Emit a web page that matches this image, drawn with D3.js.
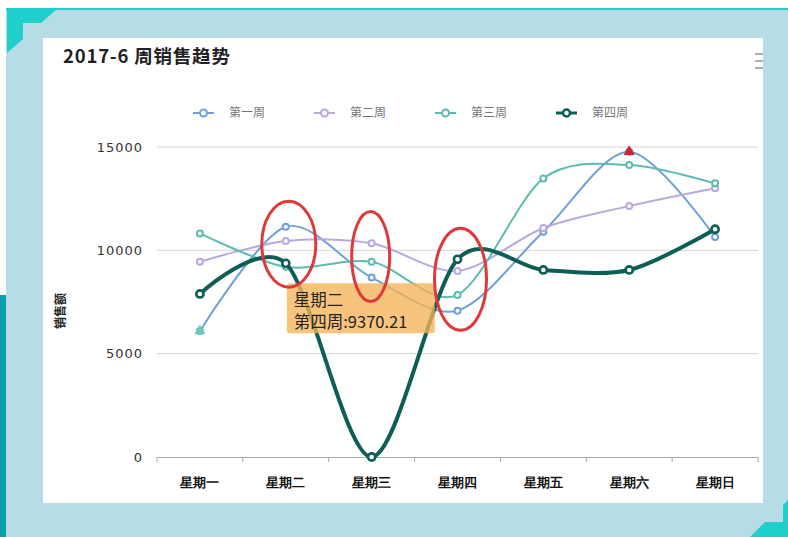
<!DOCTYPE html>
<html>
<head>
<meta charset="utf-8">
<script src="https://cdn.jsdelivr.net/npm/d3@7"></script>
<style>
    body { margin: 0; background: #fff; }
    svg { display: block; }
</style>
</head>
<body>
<div id="container"><svg></svg></div>
<script>
let width = 788, height = 537;

// 数据
let days = ['星期一', '星期二', '星期三', '星期四', '星期五', '星期六', '星期日'];
let week_names = ['第一周', '第二周', '第三周', '第四周'];
let week1 = [6100, 11140, 8680, 7080, 10900, 14770, 10650];
let week2 = [9450, 10450, 10340, 9000, 11080, 12140, 13000];
let week3 = [10820, 9200, 9450, 7840, 13480, 14130, 13240];
let week4 = [7890, 9370.21, 0, 9565, 9050, 9050, 11020];
let y_ticks = [0, 5000, 10000, 15000];
let tip_day = '星期二', tip_week = 3;
// 红圈标注: 星期二/三/四
let circle_days = ['星期二', '星期三', '星期四'];
let circle_values = [10300, 9700, 8600];

let colors = ['#6fa0d6', '#b9a9de', '#5bbdaf', '#0d5f55'];
let line_w = [2, 2, 2, 4];

let lmargin = 157, rmargin = 758, umargin = 147, dmargin = 457;

let svg = d3.select('#container').select('svg')
    .attr('width', width)
    .attr('height', height)
    .style('font-family', '"Noto Sans CJK SC", "Noto Sans", sans-serif');

function draw_frame() {
    svg.append('rect').attr('x', 6).attr('y', 9).attr('width', width - 6).attr('height', height - 9)
        .attr('fill', '#b6dce6');
    svg.append('rect').attr('x', 6).attr('y', 8).attr('width', width - 6).attr('height', 2)
        .attr('fill', '#22cfcf');
    svg.append('rect').attr('x', 0).attr('y', 295).attr('width', 6).attr('height', height - 295)
        .attr('fill', '#0a9fa8');
    // 角上的装饰
    svg.append('polygon')
        .attr('points', '7,9 57,9 41,23 23,23 23,39 7,53')
        .attr('fill', '#1fcfcc');
    svg.append('polygon')
        .attr('points', '788,500 788,537 750,537 765,522 783,522 783,505')
        .attr('fill', '#1fcfcc');
    // 白色面板
    svg.append('rect').attr('x', 43).attr('y', 38).attr('width', 720).attr('height', 465)
        .attr('fill', '#fff');

    svg.append('text').attr('x', 63).attr('y', 63)
        .attr('font-size', 18.5).attr('font-weight', 'bold').attr('fill', '#222')
        .attr('letter-spacing', 0.8)
        .text('2017-6 周销售趋势');

    // 菜单图标
    svg.append('g').attr('stroke', '#999').attr('stroke-width', 1.6)
        .selectAll('line').data([54, 61, 68]).join('line')
        .attr('x1', 755).attr('x2', 763).attr('y1', d => d).attr('y2', d => d);
}

function draw_legend() {
    let g = svg.append('g');
    let item = g.selectAll('g').data(week_names).join('g')
        .attr('transform', (d, i) => `translate(${193 + i * 121},113)`);
    item.append('line').attr('x1', 0).attr('x2', 21)
        .attr('stroke', (d, i) => colors[i]).attr('stroke-width', (d, i) => i == 3 ? 3 : 2);
    item.append('circle').attr('cx', 10.5).attr('r', 3.5)
        .attr('fill', '#fff').attr('stroke', (d, i) => colors[i]).attr('stroke-width', (d, i) => i == 3 ? 2.5 : 2);
    item.append('text').attr('x', 36).attr('y', 4)
        .attr('font-size', 12).attr('fill', '#777')
        .text(d => d);
}

function draw_graph() {
    let x = d3.scaleBand().domain(days).range([lmargin, rmargin]);
    let xc = d => x(d) + x.bandwidth() / 2;
    let y = d3.scaleLinear().domain([0, 15000]).range([dmargin, umargin]);

    // 网格线
    svg.append('g').attr('stroke', '#d4d4d4').attr('stroke-width', 1)
        .selectAll('line').data(y_ticks.filter(d => d > 0)).join('line')
        .attr('x1', lmargin).attr('x2', rmargin)
        .attr('y1', d => y(d)).attr('y2', d => y(d));

    let yaxis = svg.append('g').attr('transform', `translate(${lmargin},0)`)
        .call(d3.axisLeft(y).tickValues(y_ticks).tickFormat(d3.format('d')).tickSize(0).tickPadding(14));
    yaxis.select('.domain').remove();
    yaxis.selectAll('text').attr('font-size', 13).attr('fill', '#333')
        .attr('font-family', '"DejaVu Sans", sans-serif').attr('letter-spacing', 1);

    let xaxis = svg.append('g').attr('transform', `translate(0,${dmargin})`)
        .call(d3.axisBottom(x).tickSize(0).tickPadding(21));
    xaxis.select('.domain').attr('stroke', '#aaa');
    xaxis.selectAll('text').attr('font-size', 13).attr('font-weight', 'bold').attr('fill', '#111');
    svg.append('g').attr('stroke', '#aaa')
        .selectAll('line').data(days.concat(['end'])).join('line')
        .attr('x1', (d, i) => lmargin + i * x.bandwidth()).attr('x2', (d, i) => lmargin + i * x.bandwidth())
        .attr('y1', dmargin).attr('y2', dmargin + 5);

    svg.append('text')
        .attr('transform', 'translate(65,311) rotate(-90)')
        .attr('text-anchor', 'middle')
        .attr('font-size', 12).attr('font-weight', 'bold').attr('fill', '#222')
        .text('销售额');

    let series = [week1, week2, week3, week4];
    let line = d3.line()
        .x((d, i) => xc(days[i]))
        .y(d => y(d))
        .curve(d3.curveCardinal.tension(0.1));

    series.forEach((s, k) => {
        svg.append('path').datum(s)
            .attr('d', line)
            .attr('fill', 'none')
            .attr('stroke', colors[k])
            .attr('stroke-width', line_w[k]);
        svg.append('g').selectAll('circle').data(s).join('circle')
            .attr('cx', (d, i) => xc(days[i]))
            .attr('cy', d => y(d))
            .attr('r', k == 3 ? 3.6 : 3)
            .attr('fill', '#fff')
            .attr('stroke', colors[k])
            .attr('stroke-width', k == 3 ? 2.6 : 2);
    });

    // 第一周的最大/最小值标记
    let imax = week1.indexOf(d3.max(week1)), imin = week1.indexOf(d3.min(week1));
    let tri = d3.symbol().type(d3.symbolTriangle).size(55);
    svg.append('path').attr('d', tri)
        .attr('transform', `translate(${xc(days[imax])},${y(week1[imax])})`)
        .attr('fill', '#d4202a');
    svg.append('path').attr('d', tri)
        .attr('transform', `translate(${xc(days[imin])},${y(week1[imin])})`)
        .attr('fill', '#6ccab8');

    // 提示框
    let tv = series[tip_week][days.indexOf(tip_day)];
    let tx = xc(tip_day) + 1, ty = y(tv) + 20;
    let tip = svg.append('g').attr('transform', `translate(${tx},${ty})`);
    tip.append('rect').attr('width', 148).attr('height', 50).attr('rx', 3)
        .attr('fill', 'rgba(245,180,90,0.78)');
    tip.append('text').attr('x', 7).attr('y', 23)
        .attr('font-size', 16.5).attr('fill', '#222').text(tip_day);
    tip.append('text').attr('x', 7).attr('y', 45)
        .attr('font-size', 16.5).attr('fill', '#222').text(week_names[tip_week] + ':' + tv);

    // 红圈
    let rx = [27, 19, 26], ry = [43, 45, 51];
    svg.append('g').selectAll('ellipse').data(circle_days).join('ellipse')
        .attr('cx', (d, i) => xc(d) + [3, -1, 3][i])
        .attr('cy', (d, i) => y(circle_values[i]))
        .attr('rx', (d, i) => rx[i])
        .attr('ry', (d, i) => ry[i])
        .attr('fill', 'none')
        .attr('stroke', '#e0393a')
        .attr('stroke-width', 3);
}

draw_frame();
draw_legend();
draw_graph();
</script>
</body>
</html>
